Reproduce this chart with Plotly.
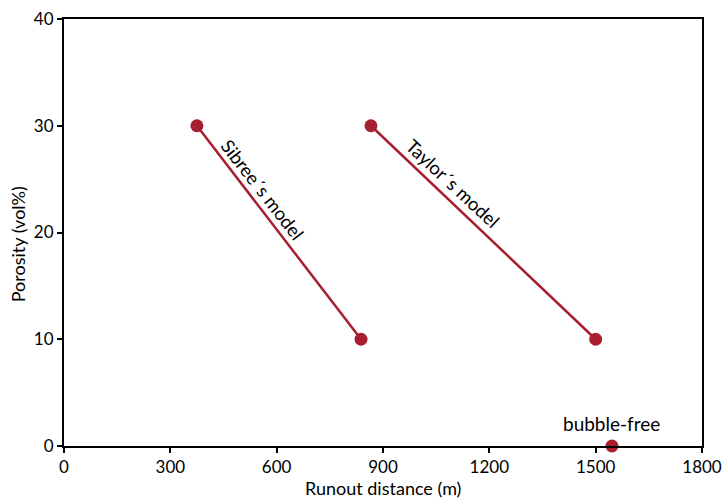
import plotly.graph_objects as go

sibree_x = [375, 838]
sibree_y = [30, 10]
taylor_x = [866, 1500]
taylor_y = [30, 10]
bubble_x = [1546]
bubble_y = [0]
x_ticks = [0, 300, 600, 900, 1200, 1500, 1800]
y_ticks = [0, 10, 20, 30, 40]

red = "#a71f2f"
font = "Lato"

fig = go.Figure()
for xs, ys in [(sibree_x, sibree_y), (taylor_x, taylor_y)]:
    fig.add_trace(go.Scatter(x=xs, y=ys, mode="lines+markers",
                             line=dict(color=red, width=2.5),
                             marker=dict(color=red, size=13),
                             showlegend=False, cliponaxis=False))
fig.add_trace(go.Scatter(x=bubble_x, y=bubble_y, mode="markers",
                         marker=dict(color=red, size=13),
                         showlegend=False, cliponaxis=False))

fig.add_annotation(x=561, y=24.0, text="Sibree´s model", textangle=52, showarrow=False,
                   font=dict(family=font, size=18.5, color="black"))
fig.add_annotation(x=1095, y=24.6, text="Taylor´s model", textangle=43, showarrow=False,
                   font=dict(family=font, size=18.5, color="black"))
fig.add_annotation(x=bubble_x[0], y=2.1, text="bubble-free", showarrow=False,
                   font=dict(family=font, size=19, color="black"))

# axis titles
fig.add_annotation(xref="paper", yref="paper", x=0.5, y=0, yshift=-42, yanchor="middle",
                   text="Runout distance (m)", showarrow=False, borderpad=0,
                   font=dict(family=font, size=18, color="black"))
fig.add_annotation(xref="paper", yref="y", x=0, y=18.9, xshift=-46, xanchor="center",
                   yanchor="middle", textangle=-90, text="Porosity (vol%)", showarrow=False,
                   font=dict(family=font, size=18, color="black"))

axis_common = dict(showgrid=False, zeroline=False, showline=True, linecolor="black",
                   linewidth=2, mirror=True, ticks="outside", ticklen=5, tickwidth=1.5,
                   tickcolor="black", tickfont=dict(family=font, size=17, color="black"),
                   automargin=False)
fig.update_xaxes(range=[0, 1800], tickvals=x_ticks, **axis_common)
fig.update_yaxes(range=[0, 40], tickvals=y_ticks, **axis_common)

fig.update_layout(width=727, height=499, plot_bgcolor="white", paper_bgcolor="white",
                  margin=dict(l=64, r=25, t=19, b=53))
fig.write_html("out.html")
